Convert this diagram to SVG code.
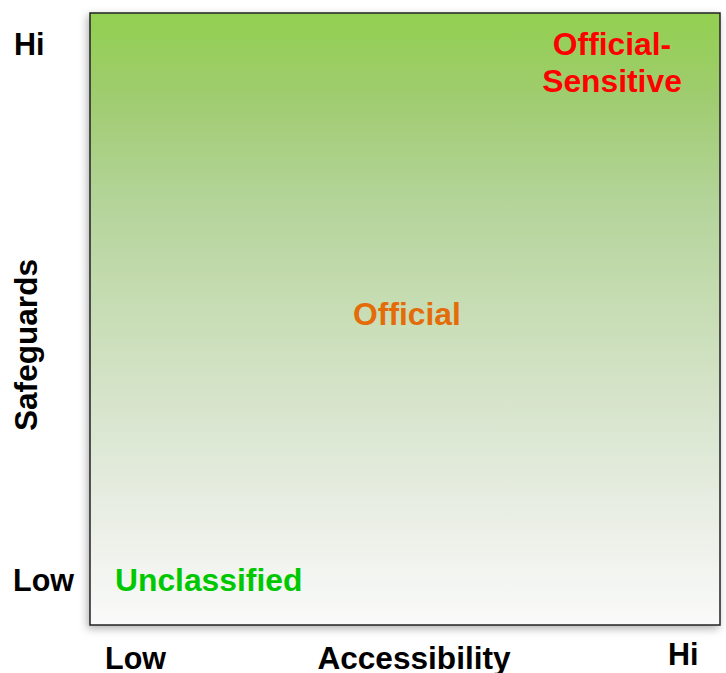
<svg xmlns="http://www.w3.org/2000/svg" width="726" height="673" viewBox="0 0 726 673">
  <defs>
    <linearGradient id="fieldFill" x1="0" y1="0" x2="0" y2="1">
      <stop offset="0" stop-color="#92d050"/>
      <stop offset="0.14" stop-color="#a0cc70"/>
      <stop offset="0.31" stop-color="#b4d49a"/>
      <stop offset="0.47" stop-color="#c6dcb2"/>
      <stop offset="0.67" stop-color="#dae6d0"/>
      <stop offset="0.83" stop-color="#eaefe6"/>
      <stop offset="1" stop-color="#fafafa"/>
    </linearGradient>
    <filter id="softShadow" x="-10%" y="-10%" width="120%" height="120%">
      <feDropShadow dx="-2" dy="3" stdDeviation="4" flood-color="#000" flood-opacity="0.3"/>
    </filter>
  </defs>
  <style>
    text { font-family: "Liberation Sans", Arial, sans-serif; font-weight: bold; }
    .axis { font-size: 30.5px; fill: #000; }
    .wide { font-size: 31.6px; }
    .zone { font-size: 31.8px; }
  </style>

  <rect width="726" height="673" fill="#fff"/>

  <!-- graded field: safeguards against accessibility -->
  <g id="field">
    <rect x="90" y="13" width="630" height="612" fill="url(#fieldFill)" stroke="#222" stroke-width="1.5" filter="url(#softShadow)"/>
  </g>

  <!-- vertical axis -->
  <g id="axis-y">
    <text class="axis" x="14" y="55">Hi</text>
    <text class="axis" x="13" y="591">Low</text>
    <text class="axis wide" x="37" y="345" text-anchor="middle" transform="rotate(-90 37 345)">Safeguards</text>
  </g>

  <!-- horizontal axis -->
  <g id="axis-x">
    <text class="axis" x="105" y="669">Low</text>
    <text class="axis wide" x="414" y="669" text-anchor="middle">Accessibility</text>
    <text class="axis" x="668" y="665">Hi</text>
  </g>

  <!-- classification zones -->
  <g id="zone-unclassified">
    <text class="zone" x="115" y="591" fill="#00c800">Unclassified</text>
  </g>
  <g id="zone-official">
    <text class="zone" x="407" y="325" text-anchor="middle" fill="#e36c09">Official</text>
  </g>
  <g id="zone-official-sensitive">
    <text class="zone" x="612" y="55" text-anchor="middle" fill="#ff0000">Official-</text>
    <text class="zone" x="612" y="92" text-anchor="middle" fill="#ff0000">Sensitive</text>
  </g>

  <g id="connectors"/>
</svg>
